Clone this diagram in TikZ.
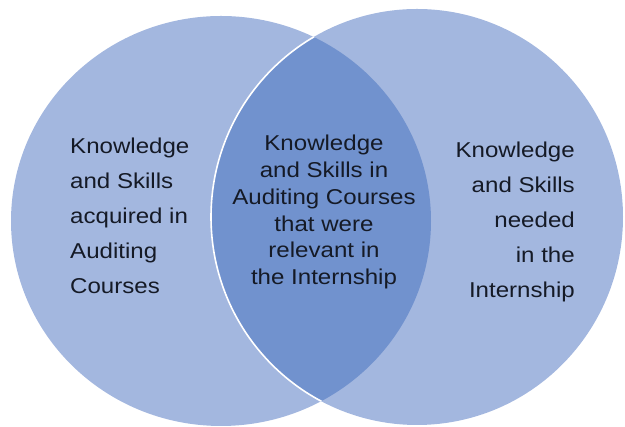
\documentclass[tikz,border=0pt]{standalone}
\usepackage{fontspec}
\setmainfont{Liberation Sans}[FakeStretch=1.12]
\definecolor{lightblue}{HTML}{A3B7DF}
\definecolor{darkblue}{HTML}{7192CE}
\definecolor{txt}{HTML}{151A26}
\tikzset{
  sidetext/.style={inner sep=0pt, text=txt, font=\fontsize{21.5}{35}\selectfont},
  midtext/.style={inner sep=0pt, text=txt, align=center, font=\fontsize{21.5}{26.8}\selectfont}
}
\begin{document}
\begin{tikzpicture}[x=1pt,y=1pt]
\useasboundingbox (0,0) rectangle (625,427);
% circles
\fill[lightblue] (221,206) ellipse [x radius=210, y radius=205];
\fill[lightblue] (417,210) ellipse [x radius=206, y radius=208];
\begin{scope}
  \clip (221,206) ellipse [x radius=210, y radius=205];
  \fill[darkblue] (417,210) ellipse [x radius=206, y radius=208];
  \draw[white, line width=1.6pt] (417,210) ellipse [x radius=206, y radius=208];
\end{scope}
% texts
\node[sidetext, align=left, anchor=north west] (left) at (70,289.7)
  {Knowledge\\and Skills\\acquired in\\Auditing\\Courses};
\node[midtext, anchor=north] (mid) at (324,292)
  {Knowledge\\and Skills in\\Auditing Courses\\that were\\relevant in\\the Internship};
\node[sidetext, align=right, anchor=north east] (right) at (575,285.4)
  {Knowledge\\and Skills\\needed\\in the\\Internship};
\end{tikzpicture}
\end{document}
